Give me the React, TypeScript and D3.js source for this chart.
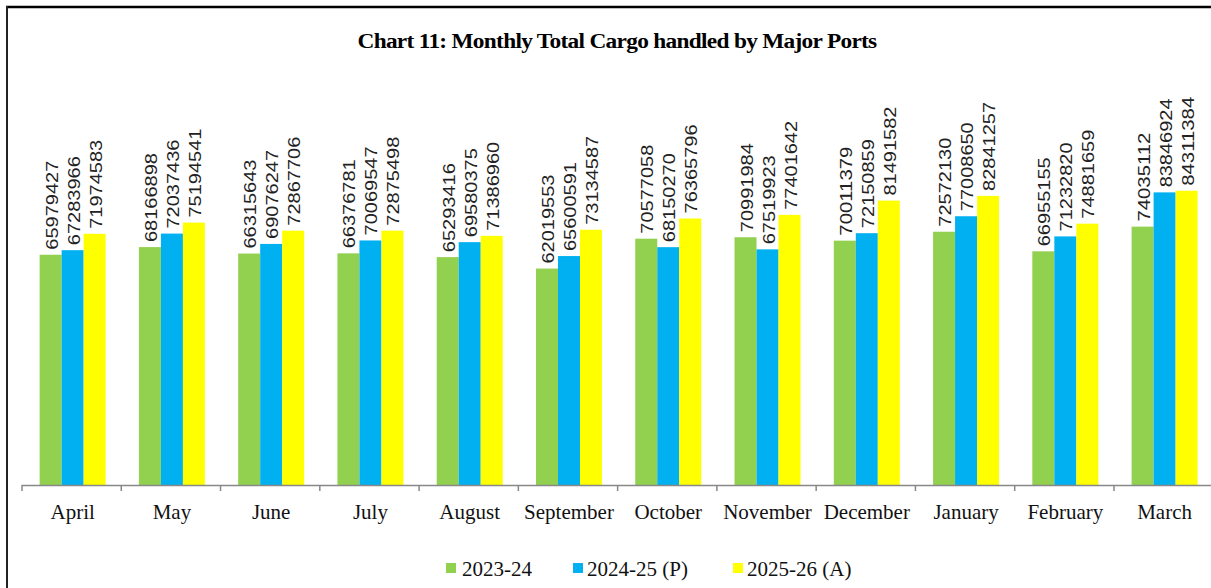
import React from "react";
import * as d3 from "d3";

const months = ["April","May","June","July","August","September","October","November","December","January","February","March"];
const s2023 = [65979427,68166898,66315643,66376781,65293416,62019553,70577058,70991984,70011379,72572130,66955155,74035112];
const s2024 = [67283966,72037436,69076247,70069547,69580375,65600591,68150270,67519923,72150859,77008650,71232820,83846924];
const s2025 = [71974583,75194541,72867706,72875498,71386960,73134587,76365796,77401642,81491582,82841257,74881659,84311384];
const seriesNames = ["2023-24","2024-25 (P)","2025-26 (A)"];
const colors = ["#92D050","#00B0F0","#FFFF00"];
const title = "Chart 11: Monthly Total Cargo handled by Major Ports";

export default function App() {
  const W = 1211, H = 588;
  const baseY = 485;
  const x = d3.scaleBand<string>().domain(months).range([22, 22 + 12 * 99.27]).padding(0);
  const y = d3.scaleLinear().domain([0, 100e6]).range([baseY, baseY - 349]);
  const bw = x.bandwidth();
  const barW = 22;
  const series = [s2023, s2024, s2025];
  const legendX = [[446, 462], [573, 587], [733, 747]];
  return (
    <svg width={W} height={H} style={{ position: "absolute", left: 0, top: 0, background: "#fff" }}>
      <rect x={0} y={0} width={W} height={H} fill="#fff" />
      <line x1={6} y1={7} x2={W} y2={7} stroke="#000" strokeWidth={2.5} />
      <line x1={7} y1={6} x2={7} y2={H} stroke="#222" strokeWidth={2} />
      <text x={617} y={48} textAnchor="middle" fontFamily="Liberation Serif, serif" fontWeight="bold" fontSize={20} letterSpacing={-0.6} textLength={519} lengthAdjust="spacingAndGlyphs">{title}</text>
      {months.map((m, i) => {
        const gx = (x(m) as number) + (bw - 3 * barW) / 2 + 1;
        return (
          <g key={m}>
            {series.map((s, k) => {
              const bx = gx + k * barW;
              const by = y(s[i]);
              return (
                <g key={k}>
                  <rect x={bx} y={by} width={barW} height={baseY - by} fill={colors[k]} />
                  <text
                    transform={`translate(${bx + barW / 2 + 1},${by - 5}) rotate(-90)`}
                    dominantBaseline="central"
                    fontFamily="Liberation Sans Narrow, Liberation Sans, sans-serif"
                    fontSize={16.5}
                    fill="#222"
                    textLength={89}
                    lengthAdjust="spacingAndGlyphs"
                  >{String(s[i])}</text>
                </g>
              );
            })}
            <text x={(x(m) as number) + bw / 2 + 1} y={519} textAnchor="middle" fontFamily="Liberation Serif, serif" fontSize={21} fill="#111">{m}</text>
          </g>
        );
      })}
      <line x1={22} y1={baseY + 0.5} x2={W} y2={baseY + 0.5} stroke="#888" strokeWidth={1.5} />
      {d3.range(13).map(i => (
        <line key={i} x1={22 + i * 99.27} x2={22 + i * 99.27} y1={baseY} y2={baseY + 6} stroke="#888" strokeWidth={1.5} />
      ))}
      {seriesNames.map((n, k) => (
        <g key={n}>
          <rect x={legendX[k][0]} y={563} width={10} height={10} fill={colors[k]} />
          <text x={legendX[k][1]} y={576} fontFamily="Liberation Serif, serif" fontSize={21} fill="#111">{n}</text>
        </g>
      ))}
    </svg>
  );
}
